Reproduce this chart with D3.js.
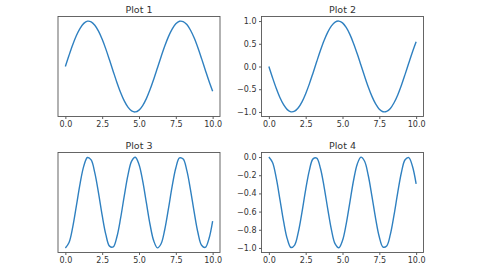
<!DOCTYPE html>
<html>
<head>
<meta charset="utf-8">
<script src="https://cdn.jsdelivr.net/npm/d3@7"></script>
<style>
  body { margin: 0; background: #fff; }
  svg { display: block; }
  text { font-family: "DejaVu Sans", sans-serif; fill: #333; }
</style>
</head>
<body>
<svg id="chart" width="480" height="270"></svg>
<script>
"use strict";
// sample positions, read along the x axis
var xs = [0, 0.25, 0.5, 0.75, 1, 1.25, 1.5, 1.75, 2, 2.25, 2.5, 2.75, 3, 3.25, 3.5, 3.75,
  4, 4.25, 4.5, 4.75, 5, 5.25, 5.5, 5.75, 6, 6.25, 6.5, 6.75, 7, 7.25, 7.5, 7.75,
  8, 8.25, 8.5, 8.75, 9, 9.25, 9.5, 9.75, 10];

var plot1 = [0, 0.247, 0.479, 0.682, 0.841, 0.949, 0.997, 0.984, 0.909, 0.778, 0.598, 0.382,
  0.141, -0.108, -0.351, -0.572, -0.757, -0.895, -0.978, -0.999, -0.959, -0.859, -0.706,
  -0.508, -0.279, -0.033, 0.215, 0.450, 0.657, 0.823, 0.938, 0.995, 0.989, 0.923, 0.798,
  0.625, 0.412, 0.173, -0.075, -0.319, -0.544];

var plot2 = [0, -0.247, -0.479, -0.682, -0.841, -0.949, -0.997, -0.984, -0.909, -0.778, -0.598,
  -0.382, -0.141, 0.108, 0.351, 0.572, 0.757, 0.895, 0.978, 0.999, 0.959, 0.859, 0.706,
  0.508, 0.279, 0.033, -0.215, -0.450, -0.657, -0.823, -0.938, -0.995, -0.989, -0.923,
  -0.798, -0.625, -0.412, -0.173, 0.075, 0.319, 0.544];

var plot3 = [0, 0.061, 0.230, 0.465, 0.708, 0.900, 0.995, 0.968, 0.826, 0.606, 0.358, 0.146,
  0.020, 0.012, 0.123, 0.327, 0.573, 0.801, 0.956, 0.998, 0.919, 0.738, 0.498, 0.258,
  0.078, 0.001, 0.046, 0.203, 0.432, 0.677, 0.880, 0.990, 0.978, 0.851, 0.637, 0.391,
  0.170, 0.030, 0.006, 0.102, 0.296];

var plot4 = [0, -0.061, -0.230, -0.465, -0.708, -0.900, -0.995, -0.968, -0.826, -0.606, -0.358,
  -0.146, -0.020, -0.012, -0.123, -0.327, -0.573, -0.801, -0.956, -0.998, -0.919, -0.738,
  -0.498, -0.258, -0.078, -0.001, -0.046, -0.203, -0.432, -0.677, -0.880, -0.990, -0.978,
  -0.851, -0.637, -0.391, -0.170, -0.030, -0.006, -0.102, -0.296];

var titles = ["Plot 1", "Plot 2", "Plot 3", "Plot 4"];
var xTicks = [0, 2.5, 5, 7.5, 10];
var yTicks2 = [-1, -0.5, 0, 0.5, 1];
var yTicks4 = [-1, -0.8, -0.6, -0.4, -0.2, 0];

var panels = [
  { title: titles[0], ys: plot1, ext: [-1, 1], yTicks: null, x0: 58, y0: 16.5 },
  { title: titles[1], ys: plot2, ext: [-1, 1], yTicks: yTicks2, x0: 261.5, y0: 16.5 },
  { title: titles[2], ys: plot3, ext: [0, 1], yTicks: null, x0: 58, y0: 152.5 },
  { title: titles[3], ys: plot4, ext: [-1, 0], yTicks: yTicks4, x0: 261.5, y0: 152.5 }
];
var W = 162, H = 100;

var svg = d3.select("#chart");

panels.forEach(function (p) {
  var g = svg.append("g").attr("transform", "translate(" + p.x0 + "," + p.y0 + ")");
  var xPad = 10 * 0.05, yPad = (p.ext[1] - p.ext[0]) * 0.05;
  var x = d3.scaleLinear().domain([0 - xPad, 10 + xPad]).range([0, W]);
  var y = d3.scaleLinear().domain([p.ext[0] - yPad, p.ext[1] + yPad]).range([H, 0]);

  var xAxis = d3.axisBottom(x).tickValues(xTicks).tickFormat(d3.format(".1f"))
    .tickSizeInner(2.5).tickSizeOuter(0).tickPadding(2.5);
  var gx = g.append("g").attr("transform", "translate(0," + H + ")").call(xAxis);
  gx.select(".domain").remove();
  gx.selectAll("line").attr("stroke", "#333").attr("stroke-width", 0.8);
  gx.selectAll("text").attr("font-size", 8).attr("fill", "#333")
    .attr("font-family", "DejaVu Sans, sans-serif");

  if (p.yTicks) {
    var yAxis = d3.axisLeft(y).tickValues(p.yTicks).tickFormat(function (d) {
      return d3.format(".1f")(d).replace("-", "\u2212");
    }).tickSizeInner(2.5).tickSizeOuter(0).tickPadding(2.5);
    var gy = g.append("g").call(yAxis);
    gy.select(".domain").remove();
    gy.selectAll("line").attr("stroke", "#333").attr("stroke-width", 0.8);
    gy.selectAll("text").attr("font-size", 8).attr("fill", "#333")
      .attr("font-family", "DejaVu Sans, sans-serif");
  }

  var line = d3.line()
    .x(function (d, i) { return x(xs[i]); })
    .y(function (d) { return y(d); })
    .curve(d3.curveCatmullRom);
  g.append("path").datum(p.ys)
    .attr("d", line)
    .attr("fill", "none")
    .attr("stroke", "#2f80c0")
    .attr("stroke-width", 1.4);

  g.append("rect").attr("width", W).attr("height", H)
    .attr("fill", "none").attr("stroke", "#555").attr("stroke-width", 0.9);

  g.append("text").attr("x", W / 2).attr("y", -4)
    .attr("text-anchor", "middle").attr("font-size", 9.5)
    .text(p.title);
});
</script>
</body>
</html>
